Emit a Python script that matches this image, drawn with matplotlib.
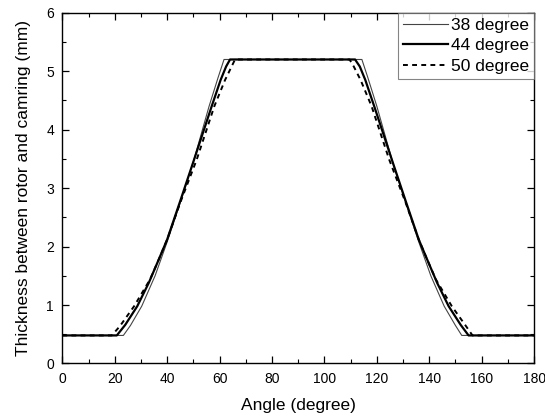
import matplotlib
matplotlib.use("Agg")
import matplotlib.pyplot as plt
from matplotlib.ticker import MultipleLocator

plt.rcParams['font.family'] = ['Liberation Sans', 'DejaVu Sans']

# 38 degree
x38 = [0, 23.3, 26, 30.3, 35.4, 40, 45, 50, 56, 59.5, 61.7,
       114.3, 116.5, 120, 126, 131, 136, 140.6, 145.7, 150, 152.4, 180]
y38 = [0.48, 0.48, 0.65, 0.98, 1.5, 2.08, 2.75, 3.45, 4.4, 4.9, 5.2,
       5.2, 4.9, 4.4, 3.45, 2.75, 2.08, 1.5, 0.98, 0.65, 0.48, 0.48]
# 44 degree
x44 = [0, 20.8, 24, 28.6, 33, 37, 40, 45, 50, 57, 60.4, 62.5, 64,
       111.7, 113.5, 115.6, 119, 126, 131, 136, 139, 143, 147.4, 152, 155, 180]
y44 = [0.48, 0.48, 0.66, 0.98, 1.38, 1.8, 2.12, 2.78, 3.45, 4.4, 4.85, 5.08, 5.2,
       5.2, 5.08, 4.85, 4.4, 3.45, 2.78, 2.12, 1.8, 1.38, 0.98, 0.66, 0.48, 0.48]
# 50 degree
x50 = [0, 18.9, 22, 27.4, 33.5, 37, 40, 45, 51.3, 58, 62.1, 64.6, 65.9,
       109.6, 111.2, 113.8, 118, 124.7, 131, 136, 139, 142.5, 148.6, 154, 156.5, 180]
y50 = [0.48, 0.48, 0.64, 0.98, 1.44, 1.8, 2.12, 2.75, 3.49, 4.4, 4.85, 5.08, 5.2,
       5.2, 5.08, 4.85, 4.4, 3.49, 2.75, 2.12, 1.8, 1.44, 0.98, 0.64, 0.48, 0.48]

labels = ["38 degree", "44 degree", "50 degree"]

fig = plt.figure(figsize=(5.45, 4.17), dpi=100)
ax = fig.add_axes([0.1143, 0.1283, 0.8657, 0.8412])

ax.plot(x38, y38, color='#444444', lw=0.8, label=labels[0])
ax.plot(x44, y44, color='black', lw=1.6, label=labels[1])
ax.plot(x50, y50, color='black', lw=1.4, ls=(0, (2.5, 2.2)), label=labels[2])

ax.set_xlim(0, 180)
ax.set_ylim(0, 6)
ax.xaxis.set_major_locator(MultipleLocator(20))
ax.xaxis.set_minor_locator(MultipleLocator(10))
ax.yaxis.set_major_locator(MultipleLocator(1))
ax.yaxis.set_minor_locator(MultipleLocator(0.5))
ax.tick_params(which='both', direction='in', top=True, right=True, labelsize=10)
ax.tick_params(which='major', length=5, width=0.9, pad=6)
ax.tick_params(which='minor', length=3, width=0.8)
for s in ax.spines.values():
    s.set_linewidth(1.0)

ax.set_xlabel("Angle (degree)", fontsize=12.5, labelpad=9)
ax.set_ylabel("Thickness between rotor and camring (mm)", fontsize=12.5, labelpad=11)

leg = ax.legend(loc='upper right', fontsize=12.5, frameon=True, fancybox=False,
                borderaxespad=0, handlelength=2.6, handletextpad=0.15,
                borderpad=0.3, labelspacing=0.3)
leg.get_frame().set_edgecolor('#666666')
leg.get_frame().set_linewidth(0.8)

fig.savefig("out.png", dpi=100)
